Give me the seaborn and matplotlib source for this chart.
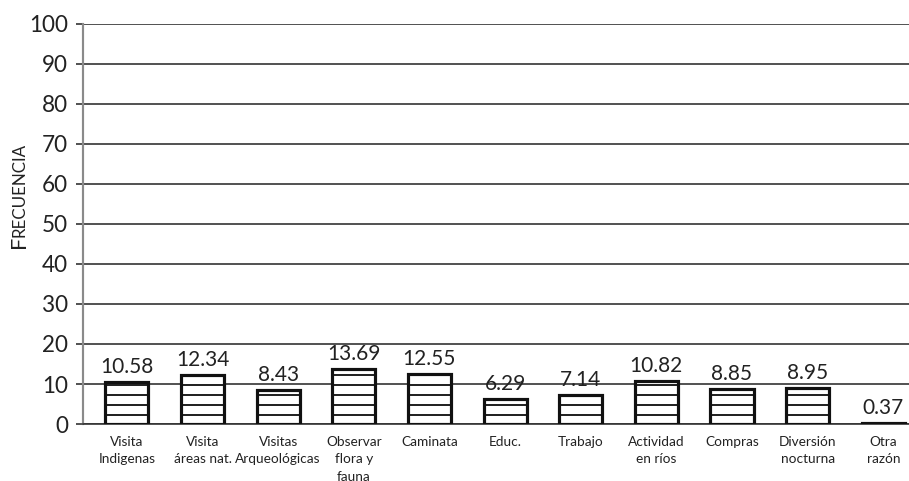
import matplotlib
matplotlib.use('Agg')
import matplotlib.pyplot as plt
import seaborn as sns

categorias = ['Visita\nIndigenas', 'Visita\náreas nat.', 'Visitas\nArqueológicas',
              'Observar\nflora y\nfauna', 'Caminata', 'Educ.', 'Trabajo',
              'Actividad\nen ríos', 'Compras', 'Diversión\nnocturna', 'Otra\nrazón']
frecuencia = [10.58, 12.34, 8.43, 13.69, 12.55, 6.29, 7.14, 10.82, 8.85, 8.95, 0.37]
yticks = [0, 10, 20, 30, 40, 50, 60, 70, 80, 90, 100]

sns.set_style('white')
plt.rcParams['font.family'] = ['Lato', 'DejaVu Sans']
plt.rcParams['hatch.linewidth'] = 1.1
plt.rcParams['hatch.color'] = '#222222'

dpi = 120
fig = plt.figure(figsize=(909 / dpi, 481 / dpi), dpi=dpi)
ax = fig.add_axes([83 / 909, 57 / 481, 826 / 909, 400 / 481])

sns.barplot(x=categorias, y=frecuencia, color='white', edgecolor='#111111',
            linewidth=1.9, hatch='--', width=0.57, saturation=1, ax=ax, zorder=3)

ax.set_xlim(-0.58, 10.34)
ax.set_ylim(0, 100)
ax.set_yticks(yticks)
ax.yaxis.grid(True, color='#333333', linewidth=1.0)
ax.set_axisbelow(True)

for s in ['top', 'right']:
    ax.spines[s].set_visible(False)
ax.spines['left'].set_color('#8a8a8a')
ax.spines['left'].set_linewidth(1.3)
ax.spines['bottom'].set_color('#333333')
ax.spines['bottom'].set_linewidth(1.0)

ax.tick_params(axis='y', direction='out', length=4, width=1.0, color='#333333',
               pad=5, labelsize=13.5, labelcolor='#222222', left=True)
ax.tick_params(axis='x', length=0, pad=7, labelsize=8.2, labelcolor='#222222')
for lab in ax.get_xticklabels():
    lab.set_linespacing(1.55)
    lab.set_va('top')

ax.bar_label(ax.containers[0], labels=[f'{v:.2f}' for v in frecuencia],
             padding=3, fontsize=12.5, color='#222222')

# eje y en versalitas: F grande + resto pequeño
ax.set_ylabel('')
fig.text(25 / 909, 1 - 248 / 481, 'F', rotation=90, rotation_mode='anchor',
         ha='left', va='baseline', fontsize=13, color='#222222')
fig.text(25 / 909, 1 - 237 / 481, 'RECUENCIA', rotation=90, rotation_mode='anchor',
         ha='left', va='baseline', fontsize=10.2, color='#222222')

fig.savefig('out.png', dpi=dpi)
